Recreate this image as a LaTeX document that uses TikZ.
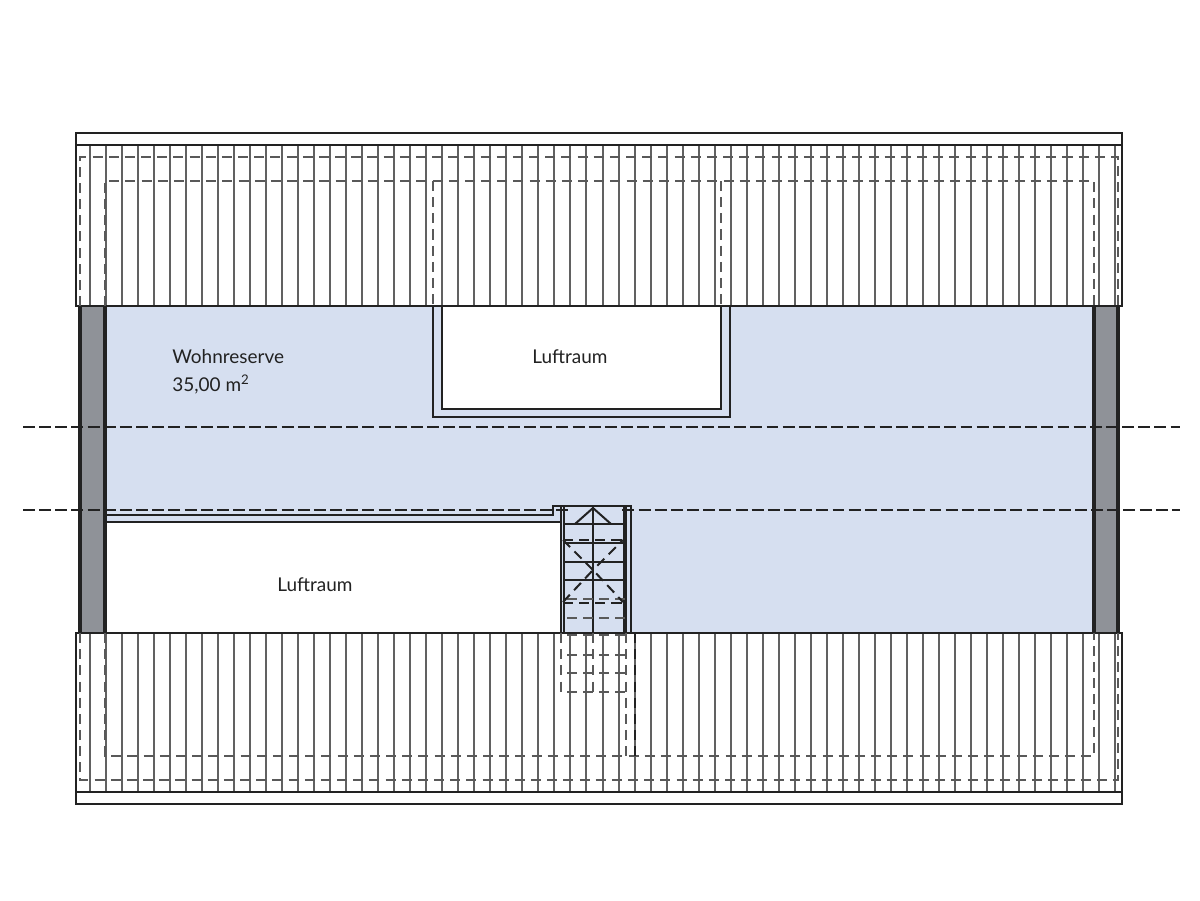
\documentclass[tikz,border=0pt]{standalone}
\usepackage{fontspec}
\setmainfont{Lato}
\usepackage{color}
\usetikzlibrary{positioning}
\definecolor{wohnblue}{HTML}{D6DFF0}
\definecolor{giebelgray}{HTML}{8F9298}
\definecolor{inkdark}{HTML}{222222}
\tikzset{
    outline/.style={draw=inkdark,line width=1.15pt},
    rafter/.style={draw=black!62,line width=1.15pt},
    hidden/.style={draw=black!65,line width=1.15pt,dash pattern=on 5.7pt off 3.5pt},
    axisline/.style={draw=inkdark,line width=1.15pt,dash pattern=on 6.8pt off 2.4pt},
    thickwall/.style={draw=inkdark,line width=2pt},
    tread/.style={draw=inkdark,line width=1.15pt},
    label/.style={inner sep=0pt,anchor=base west,text=inkdark,font=\fontsize{10.8}{13}\selectfont}
}
\begin{document}
\begin{tikzpicture}[x=0.02cm,y=-0.02cm]
    \useasboundingbox (0,0) rectangle (1200,900);
    \fill[wohnblue] (105,306) rectangle (1094,633);
    \fill[giebelgray] (80,306) rectangle (105,633);
    \fill[giebelgray] (1094,306) rectangle (1118,633);
    \fill[white] (105,522) rectangle (561,633);
    \fill[white] (442,306) rectangle (721,409);
    \foreach \k in {0,...,64} {
        \pgfmathsetmacro{\xr}{round(90+16.016*\k)}
        \draw[rafter] (\xr,145) -- (\xr,306);
        \draw[rafter] (\xr,633) -- (\xr,792);
    }
    \draw[outline] (76,133) rectangle (1122,145);
    \draw[outline] (76,145) rectangle (1122,306);
    \draw[outline] (76,633) rectangle (1122,792);
    \draw[outline] (76,792) rectangle (1122,804);
    \draw[thickwall] (80,306) -- (80,633);
    \draw[thickwall] (105,306) -- (105,633);
    \draw[thickwall] (1094,306) -- (1094,633);
    \draw[thickwall] (1118,306) -- (1118,633);
    \draw[outline] (433,306) |- (730,417) -- (730,306);
    \draw[outline] (442,306) |- (721,409) -- (721,306);
    \draw[hidden] (80,306) |- (1118,157) -- (1118,306);
    \draw[hidden] (80,633) |- (1118,780) -- (1118,633);
    \draw[hidden] (105,306) |- (1094,181) -- (1094,306);
    \draw[hidden] (105,633) |- (1094,756) -- (1094,633);
    \draw[hidden] (433,181) -- (433,306);
    \draw[hidden] (721,181) -- (721,306);
    \draw[axisline] (23,427) -- (1180,427);
    \draw[axisline] (23,510) -- (570,510);
    \draw[axisline] (622.4,510) -- (1180,510);
    \draw[outline] (105,515) -- (553,515) -- (553,506) -- (631,506) -- (631,633);
    \draw[outline] (105,522) -- (561,522);
    \draw[outline] (561,506) -- (561,633);
    \draw[outline] (564,506) -- (564,633);
    \draw[outline] (593,506) -- (593,633);
    \draw[thickwall] (625,506) -- (625,633);
    \foreach \y in {524,543,562,580} {
        \draw[tread] (564,\y) -- (625,\y);
    }
    \draw[tread] (575,524) -- (593,508) -- (611,524);
    \foreach \y in {540,603} {
        \draw[hidden,draw=inkdark] (563,\y) -- (624,\y);
    }
    \foreach \y in {599,618,635,655,673,692} {
        \draw[hidden] (567,\y) -- (625,\y);
    }
    \draw[hidden,draw=inkdark] (563,540) -- (593,570) -- (623,540);
    \draw[hidden,draw=inkdark] (563,602) -- (593,570) -- (623,602);
    \draw[hidden] (561,633) -- (561,692);
    \draw[hidden] (593,633) -- (593,692);
    \draw[hidden] (626,633) -- (626,756);
    \draw[hidden,draw=inkdark] (635,633) -- (635,756);
    \node[label] (wohnreserve) at (172,363.5) {Wohnreserve};
    \node[label] (flaeche) at (172,391) {35,00 m\textsuperscript{2}};
    \node[label] (luftraumoben) at (532,363.5) {Luftraum};
    \node[label] (luftraumunten) at (277,591) {Luftraum};
\end{tikzpicture}
\end{document}
